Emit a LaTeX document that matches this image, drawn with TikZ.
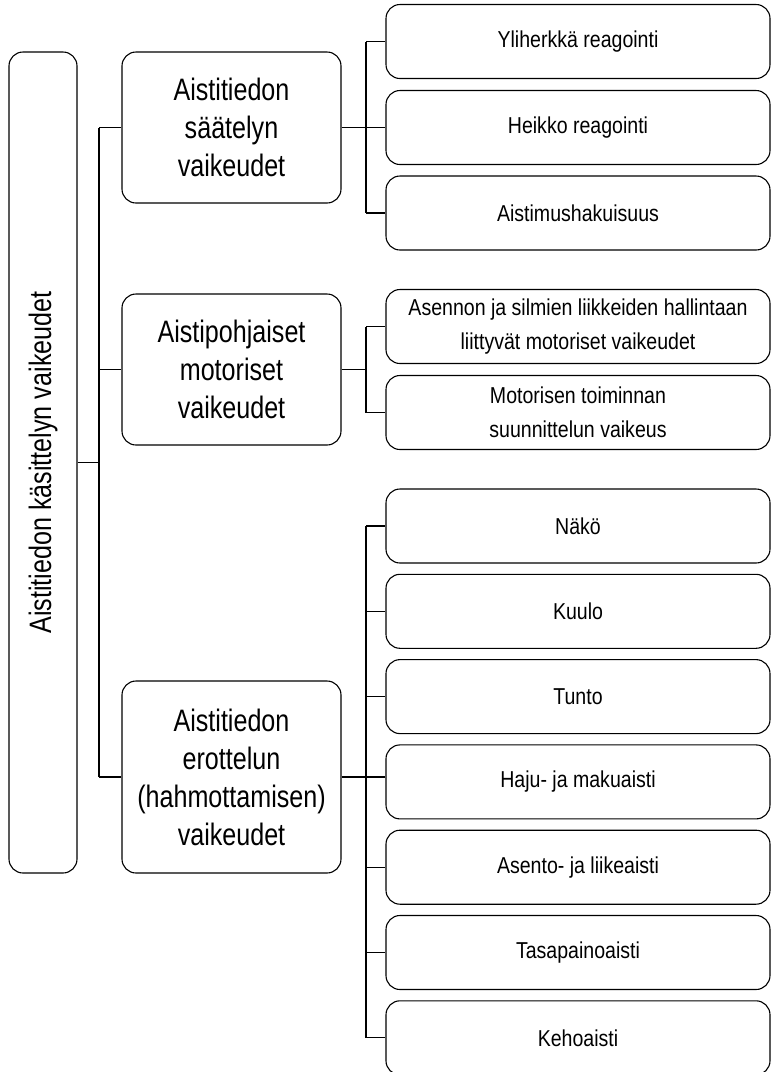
\documentclass[tikz,border=0pt]{standalone}
\usepackage{fontspec}
\setmainfont{Liberation Sans}[FakeStretch=0.81]
\newfontfamily\leaffont{Liberation Sans}[FakeStretch=0.85]
\begin{document}
\begin{tikzpicture}[x=1pt,y=-1pt,
  box/.style={draw=black, line width=1.1pt, rounded corners=14pt, align=center, inner sep=0pt, text=black},
  rootbox/.style={box, minimum width=821pt, minimum height=68pt, rotate=90, font=\fontsize{31}{38}\selectfont},
  catbox/.style={box, minimum width=219pt, font=\fontsize{31}{38}\selectfont},
  leafbox/.style={box, minimum width=384pt, minimum height=74pt, font=\leaffont\fontsize{23}{34}\selectfont},
  link/.style={line width=1.1pt, draw=black}]
\useasboundingbox (0,0) rectangle (772,1072);

% root
\node[rootbox] (root) at (43,462.5) {Aistitiedon käsittelyn vaikeudet};

% categories
\node[catbox, minimum height=151pt] (c1) at (231.5,127.5) {Aistitiedon\\säätelyn\\vaikeudet};
\node[catbox, minimum height=151pt] (c2) at (231.5,369.5) {Aistipohjaiset\\motoriset\\vaikeudet};
\node[catbox, minimum height=192pt] (c3) at (231.5,777) {Aistitiedon\\erottelun\\(hahmottamisen)\\vaikeudet};

% leaves of c1
\node[leafbox] (l11) at (578,41.5) {Yliherkkä reagointi};
\node[leafbox] (l12) at (578,127.5) {Heikko reagointi};
\node[leafbox] (l13) at (578,213) {Aistimushakuisuus};
% leaves of c2
\node[leafbox] (l21) at (578,326.5) {Asennon ja silmien liikkeiden hallintaan\\liittyvät motoriset vaikeudet};
\node[leafbox] (l22) at (578,412.5) {Motorisen toiminnan\\suunnittelun vaikeus};
% leaves of c3
\node[leafbox] (l31) at (578,526) {Näkö};
\node[leafbox] (l32) at (578,611.3) {Kuulo};
\node[leafbox] (l33) at (578,696.6) {Tunto};
\node[leafbox] (l34) at (578,781.9) {Haju- ja makuaisti};
\node[leafbox] (l35) at (578,867.2) {Asento- ja liikeaisti};
\node[leafbox] (l36) at (578,952.5) {Tasapainoaisti};
\node[leafbox] (l37) at (578,1037.8) {Kehoaisti};

% spines
\coordinate (sp0) at (99,0);
\coordinate (sp1) at (366,0);

% root to categories
\draw[link] (root.south) -- (sp0 |- root.south);
\draw[link] (sp0 |- c1.west) -- (sp0 |- c3.west);
\foreach \n in {c1,c2,c3} \draw[link] (sp0 |- \n.west) -- (\n.west);

% c1 to leaves
\draw[link] (c1.east) -- (sp1 |- c1.east);
\draw[link] (sp1 |- l11.west) -- (sp1 |- l13.west);
\foreach \n in {l11,l12,l13} \draw[link] (sp1 |- \n.west) -- (\n.west);

% c2 to leaves
\draw[link] (c2.east) -- (sp1 |- c2.east);
\draw[link] (sp1 |- l21.west) -- (sp1 |- l22.west);
\foreach \n in {l21,l22} \draw[link] (sp1 |- \n.west) -- (\n.west);

% c3 to leaves
\draw[link] (c3.east) -- (l34.west |- c3.east);
\draw[link] (sp1 |- l31.west) -- (sp1 |- l37.west);
\foreach \n in {l31,l32,l33,l35,l36,l37} \draw[link] (sp1 |- \n.west) -- (\n.west);
\end{tikzpicture}
\end{document}
